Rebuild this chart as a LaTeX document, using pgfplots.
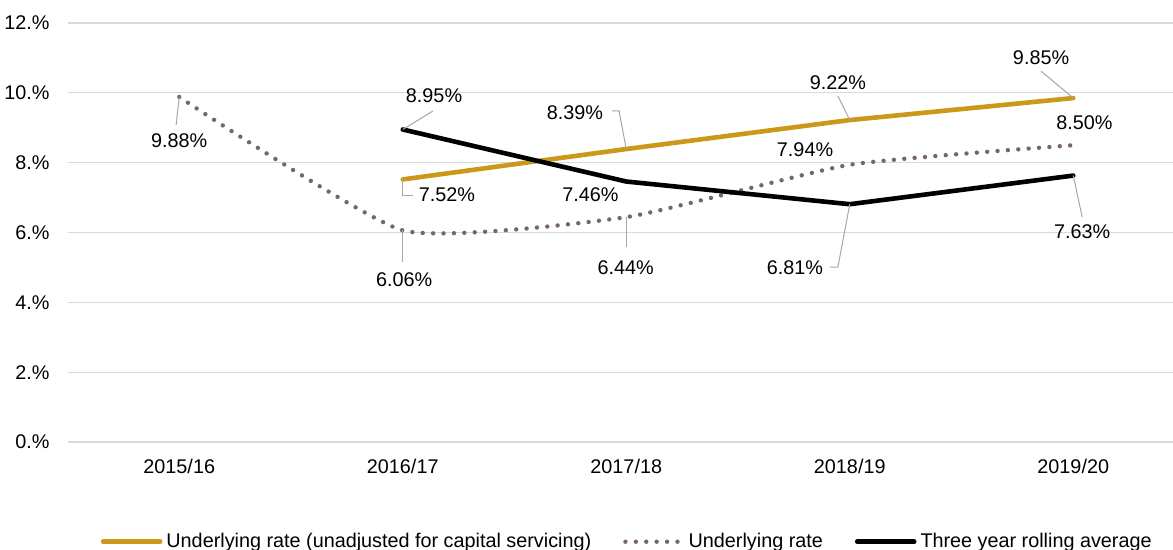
\documentclass[border=0pt]{standalone}
\usepackage{pgfplots}
\pgfplotsset{compat=1.18}
\usepackage{fontspec}
\setmainfont{Liberation Sans}
\definecolor{goldc}{RGB}{203,152,26}
\definecolor{dotc}{RGB}{118,104,94}
\definecolor{gridc}{RGB}{217,217,217}
\definecolor{leadc}{RGB}{166,166,166}
\begin{document}
\begin{tikzpicture}[font=\fontsize{9.9}{11.5}\selectfont]
\useasboundingbox (0,0) rectangle (586.5pt,275pt);
\begin{axis}[
  at={(33.75pt,54pt)}, anchor=south west,
  scale only axis, width=558.75pt, height=209.5pt,
  xmin=-0.5, xmax=4.5, ymin=0, ymax=12,
  axis line style={draw=none},
  tick style={draw=none},
  xtick={0,1,2,3,4},
  xticklabels={2015/16,2016/17,2017/18,2018/19,2019/20},
  ytick={0,2,4,6,8,10,12},
  yticklabels={0.\%,2.\%,4.\%,6.\%,8.\%,10.\%,12.\%},
  yticklabel style={anchor=east, inner sep=0pt, xshift=-8.75pt},
  xticklabel style={anchor=center, inner sep=0pt, yshift=-12pt},
  ymajorgrids, grid style={gridc, line width=0.6pt},
  clip=false,
  legend columns=3,
  legend style={at={(0.5,-0.238)}, anchor=center, draw=none, fill=none,
    inner sep=0pt, nodes={inner sep=0pt},
    /tikz/every odd column/.append style={column sep=2pt},
    /tikz/every even column/.append style={column sep=16pt}},
  legend image code/.code={\draw[#1] (0pt,0pt) -- (28.5pt,0pt);},
]
\addplot[goldc, line width=2.3pt, line cap=round] coordinates {(1,7.52) (2,8.39) (3,9.22) (4,9.85)};
\addlegendentry{Underlying rate (unadjusted for capital servicing)}
\addplot[dotc, line width=2.2pt, line cap=round, dash pattern=on 0pt off 5.2pt, smooth, tension=0.3] coordinates {(0,9.88) (1,6.06) (2,6.44) (3,7.94) (4,8.50)};
\addlegendentry{Underlying rate}
\addplot[black, line width=2.3pt, line cap=round, line join=round] coordinates {(1,8.95) (2,7.46) (3,6.81) (4,7.63)};
\addlegendentry{Three year rolling average}

% leader lines
\draw[leadc, line width=0.5pt] (axis cs:0,9.88) -- (axis cs:-0.014,9.08);
\draw[leadc, line width=0.5pt] (axis cs:1,8.95) -- (axis cs:1.135,9.48);
\draw[leadc, line width=0.5pt] (axis cs:1,7.52) -- (axis cs:1,7.07) -- (axis cs:1.045,7.07);
\draw[leadc, line width=0.5pt] (axis cs:1,6.06) -- (axis cs:1,5.15);
\draw[leadc, line width=0.5pt] (axis cs:2,8.39) -- (axis cs:1.968,9.48) -- (axis cs:1.937,9.48);
\draw[leadc, line width=0.5pt] (axis cs:2,6.44) -- (axis cs:2,5.58);
\draw[leadc, line width=0.5pt] (axis cs:3,9.22) -- (axis cs:2.947,9.91);
\draw[leadc, line width=0.5pt] (axis cs:3,6.81) -- (axis cs:2.947,5.01) -- (axis cs:2.912,5.01);
\draw[leadc, line width=0.5pt] (axis cs:4,9.85) -- (axis cs:3.856,10.62);
\draw[leadc, line width=0.5pt] (axis cs:4,7.63) -- (axis cs:4.04,6.44);

% data labels
\node[inner sep=0pt] at (axis cs:0,8.62) {9.88\%};
\node[inner sep=0pt] at (axis cs:1.14,9.91) {8.95\%};
\node[inner sep=0pt] at (axis cs:1.198,7.07) {7.52\%};
\node[inner sep=0pt] at (axis cs:1.006,4.64) {6.06\%};
\node[inner sep=0pt] at (axis cs:1.84,7.07) {7.46\%};
\node[inner sep=0pt] at (axis cs:1.77,9.42) {8.39\%};
\node[inner sep=0pt] at (axis cs:1.997,4.98) {6.44\%};
\node[inner sep=0pt] at (axis cs:2.947,10.28) {9.22\%};
\node[inner sep=0pt] at (axis cs:2.80,8.36) {7.94\%};
\node[inner sep=0pt] at (axis cs:2.755,4.98) {6.81\%};
\node[inner sep=0pt] at (axis cs:3.856,11.0) {9.85\%};
\node[inner sep=0pt] at (axis cs:4.05,9.14) {8.50\%};
\node[inner sep=0pt] at (axis cs:4.04,6.01) {7.63\%};
\end{axis}
\end{tikzpicture}
\end{document}
